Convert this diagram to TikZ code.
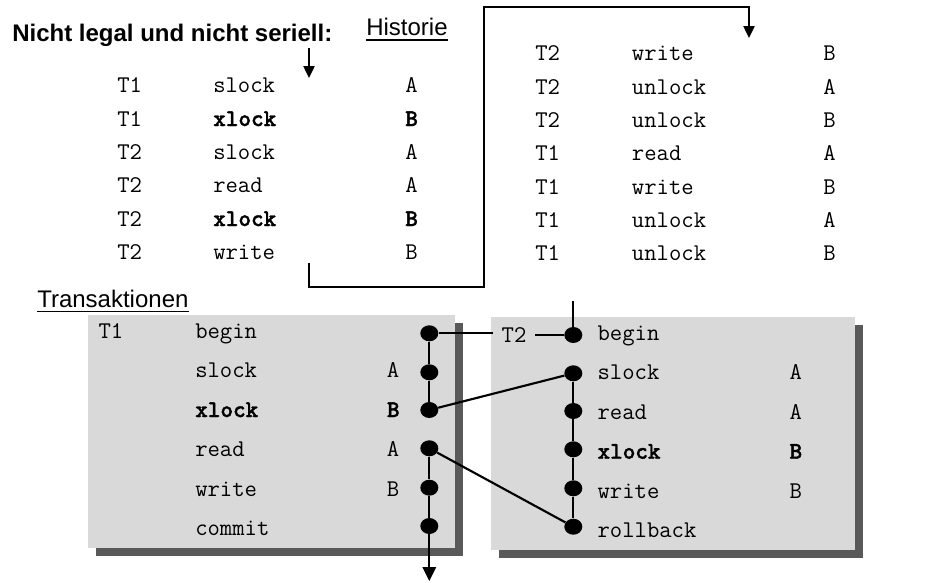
\documentclass[tikz,border=0pt]{standalone}
\usepackage{fontspec}
\setmainfont{Liberation Sans}
\newfontfamily\heavymono{lmmonolt10-bold.otf}[FakeBold=1.6]
\usetikzlibrary{arrows.meta,shapes.geometric}
\definecolor{boxgray}{RGB}{217,217,217}
\definecolor{shadowgray}{RGB}{89,89,89}
\begin{document}
\begin{tikzpicture}[x=0.75pt,y=-0.75pt,
  mono/.style={font=\ttfamily\fontsize{18}{18}\selectfont, inner sep=0pt, anchor=base west},
  bmono/.style={mono, font=\heavymono\fontsize{18}{18}\selectfont},
  heading/.style={font=\fontsize{18}{18}\selectfont, inner sep=0pt, anchor=base west},
  uline/.style={line width=1.1pt},
  thinline/.style={line width=1pt},
  tline/.style={line width=1.6pt},
  tip/.style={-{Triangle[width=8.5pt,length=9pt]}},
  bigtip/.style={-{Triangle[width=10pt,length=10.5pt]}},
  dot/.style={ellipse, fill=black, inner sep=0pt, minimum width=13.5pt, minimum height=12pt},
  panel/.style={fill=boxgray},
  panelshadow/.style={fill=shadowgray}]
\useasboundingbox (0,0) rectangle (938,582);

% headings
\node[heading, font=\bfseries\fontsize{18}{18}\selectfont] (title) at (12,41) {Nicht legal und nicht seriell:};
\node[heading] (hist) at (366,35) {Historie};
\draw[uline] ([yshift=-3.8pt]hist.base west) -- ([yshift=-3.8pt]hist.base east);
\node[heading] (trans) at (37,307) {Transaktionen};
\draw[uline] ([yshift=-3.3pt]trans.base west) -- ([yshift=-3.3pt]trans.base east);

% history, first column
\node[mono]  (ha1) at (117, 92.7) {T1}; \node[mono]  (hb1) at (213, 92.7) {slock}; \node[mono]  (hc1) at (405, 92.7) {A};
\node[mono]  (ha2) at (117,126.0) {T1}; \node[bmono] (hb2) at (213,126.0) {xlock}; \node[bmono] (hc2) at (405,126.0) {B};
\node[mono]  (ha3) at (117,159.3) {T2}; \node[mono]  (hb3) at (213,159.3) {slock}; \node[mono]  (hc3) at (405,159.3) {A};
\node[mono]  (ha4) at (117,192.7) {T2}; \node[mono]  (hb4) at (213,192.7) {read};  \node[mono]  (hc4) at (405,192.7) {A};
\node[mono]  (ha5) at (117,226.0) {T2}; \node[bmono] (hb5) at (213,226.0) {xlock}; \node[bmono] (hc5) at (405,226.0) {B};
\node[mono]  (ha6) at (117,259.3) {T2}; \node[mono]  (hb6) at (213,259.3) {write}; \node[mono]  (hc6) at (405,259.3) {B};

% history, second column
\node[mono] (ha7)  at (535, 60.7) {T2}; \node[mono] (hb7)  at (631.7, 60.7) {write};  \node[mono] (hc7)  at (823, 60.7) {B};
\node[mono] (ha8)  at (535, 94.0) {T2}; \node[mono] (hb8)  at (631.7, 94.0) {unlock}; \node[mono] (hc8)  at (823, 94.0) {A};
\node[mono] (ha9)  at (535,127.4) {T2}; \node[mono] (hb9)  at (631.7,127.4) {unlock}; \node[mono] (hc9)  at (823,127.4) {B};
\node[mono] (ha10) at (535,160.7) {T1}; \node[mono] (hb10) at (631.7,160.7) {read};   \node[mono] (hc10) at (823,160.7) {A};
\node[mono] (ha11) at (535,194.0) {T1}; \node[mono] (hb11) at (631.7,194.0) {write};  \node[mono] (hc11) at (823,194.0) {B};
\node[mono] (ha12) at (535,227.4) {T1}; \node[mono] (hb12) at (631.7,227.4) {unlock}; \node[mono] (hc12) at (823,227.4) {A};
\node[mono] (ha13) at (535,260.7) {T1}; \node[mono] (hb13) at (631.7,260.7) {unlock}; \node[mono] (hc13) at (823,260.7) {B};

% reading order of the history
\coordinate (inA) at (309,48);
\coordinate (inB) at (309,78);
\draw[thinline, tip] (inA) -- (inB);
\coordinate (brA) at (309,263);
\coordinate (brB) at (309,287);
\coordinate (brC) at (484,287);
\coordinate (brD) at (484,7);
\coordinate (brE) at (749,7);
\coordinate (brF) at (749,38);
\draw[thinline, tip] (brA) -- (brB) -- (brC) -- (brD) -- (brE) -- (brF);

% transaction panels with drop shadows
\fill[panelshadow] (96,323) rectangle (463,556);
\fill[panel] (88,315) rectangle (455,548);
\fill[panelshadow] (499,325) rectangle (863,558);
\fill[panel] (491,317) rectangle (855,550);

% transaction T1
\node[mono] (t1n) at (98.3,338) {T1};
\node[mono]  (t1o1) at (195,338.0) {begin};
\node[mono]  (t1o2) at (195,377.5) {slock};  \node[mono]  (t1x2) at (386.7,377.5) {A};
\node[bmono] (t1o3) at (195,417.0) {xlock};  \node[bmono] (t1x3) at (386.7,417.0) {B};
\node[mono]  (t1o4) at (195,456.5) {read};   \node[mono]  (t1x4) at (386.7,456.5) {A};
\node[mono]  (t1o5) at (195,496.0) {write};  \node[mono]  (t1x5) at (386.7,496.0) {B};
\node[mono]  (t1o6) at (195,535.5) {commit};

% transaction T2
\node[mono]  (t2o1) at (597.3,340.5) {begin};
\node[mono]  (t2o2) at (597.3,379.9) {slock};    \node[mono]  (t2x2) at (789.3,379.9) {A};
\node[mono]  (t2o3) at (597.3,419.3) {read};     \node[mono]  (t2x3) at (789.3,419.3) {A};
\node[bmono] (t2o4) at (597.3,458.7) {xlock};    \node[bmono] (t2x4) at (789.3,458.7) {B};
\node[mono]  (t2o5) at (597.3,498.1) {write};    \node[mono]  (t2x5) at (789.3,498.1) {B};
\node[mono]  (t2o6) at (597.3,537.5) {rollback};
\node[mono, anchor=center, inner xsep=6pt] (t2n) at (514,335) {T2};

% event dots
\node[dot] (d11) at (429.3,333.3) {};
\node[dot] (d12) at (429.3,372.3) {};
\node[dot] (d13) at (429.3,410.0) {};
\node[dot] (d14) at (429.3,448.3) {};
\node[dot] (d15) at (429.3,487.7) {};
\node[dot] (d16) at (429.3,526.0) {};
\node[dot] (d21) at (573.3,335.0) {};
\node[dot] (d22) at (573.3,373.3) {};
\node[dot] (d23) at (573.3,411.0) {};
\node[dot] (d24) at (573.3,449.3) {};
\node[dot] (d25) at (573.3,488.3) {};
\node[dot] (d26) at (573.3,526.7) {};

% time lines
\coordinate (t1end) at (429.3,581);
\coordinate (t2start) at (573.3,301);
\draw[tline] (d11) -- (d12) -- (d13);
\draw[tline] (d14) -- (d15) -- (d16);
\draw[tline, bigtip] (d16) -- (t1end);
\draw[tline] (t2start) -- (d21);
\draw[tline] (d22) -- (d23) -- (d24) -- (d25) -- (d26);
\draw[tline] (d11) -- (d11 -| t2n.west);
\draw[tline] (t2n.east |- d21) -- (d21);
\draw[tline] (d13) -- (d22);
\draw[tline] (d14) -- (d26);
\end{tikzpicture}
\end{document}
